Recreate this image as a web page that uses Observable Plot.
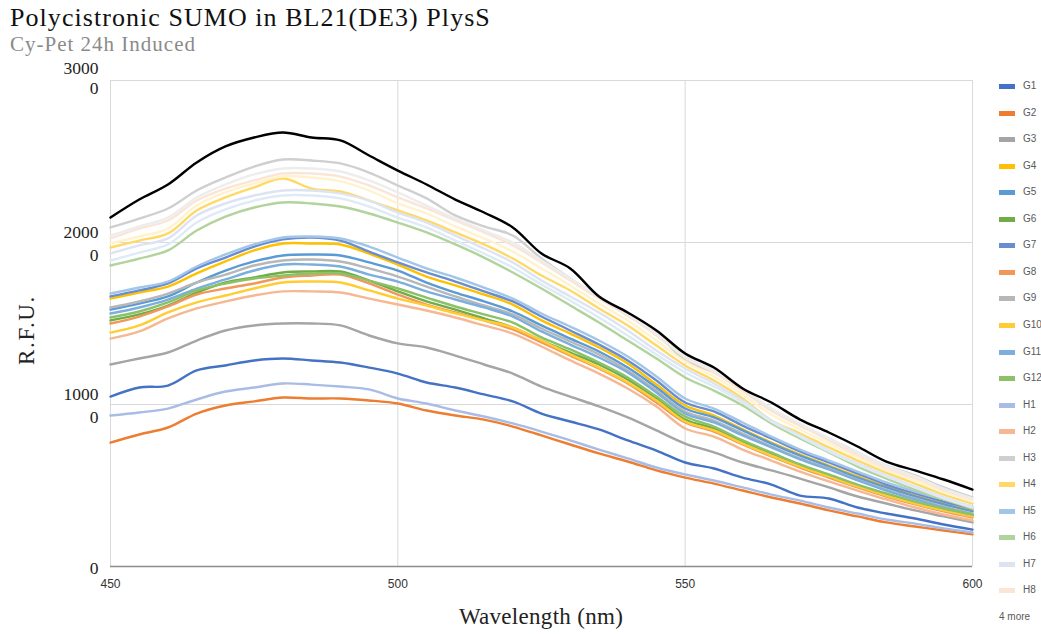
<!DOCTYPE html>
<html><head><meta charset="utf-8">
<script src="https://cdn.jsdelivr.net/npm/d3@7"></script>
<script src="https://cdn.jsdelivr.net/npm/@observablehq/plot@0.6"></script>
<style>
body{margin:0;background:#fff;}
#wrap{position:relative;width:1041px;height:634px;overflow:hidden;background:#fff;}
#chart{position:absolute;left:0;top:0;}
#title{position:absolute;left:10px;top:5px;font:26px "Liberation Serif","Times New Roman",serif;line-height:26px;letter-spacing:1.05px;color:#111;white-space:nowrap;}
#sub{position:absolute;left:10px;top:34px;font:21px "Liberation Serif","Times New Roman",serif;line-height:21px;letter-spacing:1px;color:#8a8a8a;white-space:nowrap;}
#xlab{position:absolute;left:0;width:1082px;top:604px;text-align:center;font:23px "Liberation Serif",serif;letter-spacing:0.3px;color:#222;}
#ylab{position:absolute;left:27px;top:330px;transform:translate(-50%,-50%) rotate(-90deg);font:23px "Liberation Serif",serif;letter-spacing:1.6px;color:#222;white-space:nowrap;}
.lg{position:absolute;left:999px;height:14px;font:10px "Liberation Sans",Arial,sans-serif;color:#595959;white-space:nowrap;}
.lg span.sw{position:absolute;left:0;top:5px;width:16px;height:5px;}
.lg span.tx{position:absolute;left:24px;top:0;line-height:14px;}
</style></head>
<body><div id="wrap"><div id="chart"></div>
<div id="title">Polycistronic SUMO in BL21(DE3) PlysS</div>
<div id="sub">Cy-Pet 24h Induced</div>
<div id="xlab">Wavelength (nm)</div>
<div id="ylab">R.F.U.</div>
<div id="legend"></div>
</div>
<script>
const wavelengths = [450,455,460,465,470,475,480,485,490,495,500,505,510,515,520,525,530,535,540,545,550,555,560,565,570,575,580,585,590,595,600];
const seriesNames = ["G1","G2","G3","G4","G5","G6","G7","G8","G9","G10","G11","G12","H1","H2","H3","H4","H5","H6","H7","H8","H9","H10","H11","H12"];
const seriesColors = ["#4472C4","#ED7D31","#A5A5A5","#FFC000","#5B9BD5","#70AD47","#698ED0","#F1975A","#B7B7B7","#FFCD33","#7CAFDD","#8CC168","#A9BCE5","#F5B893","#CFCFCF","#FFD966","#A3C6E8","#B1D49C","#DDE3F3","#FBE5D6","#EDEDED","#FFF2CC","#DEEBF7","#000000"];
const legendShown = 20;
const legendMore = "4 more";

const G1 = [10490,11050,11170,12100,12410,12720,12840,12720,12590,12280,11910,11360,11050,10620,10190,9440,8950,8460,7780,7160,6420,6050,5490,5060,4380,4200,3640,3270,2960,2590,2280];
const G2 = [7650,8150,8580,9440,9940,10190,10430,10370,10370,10250,10060,9630,9320,9070,8640,8090,7530,6980,6480,5930,5490,5120,4690,4260,3890,3460,3090,2720,2470,2220,1980];
const G3 = [12470,12840,13210,13950,14570,14880,15000,15000,14880,14260,13770,13520,13020,12470,11910,11110,10490,9880,9200,8400,7590,7040,6420,5930,5430,4880,4320,3890,3460,3090,2720];
const G4 = [16540,16910,17280,18090,18830,19510,19940,19940,19880,19320,18640,17900,17350,16790,16170,15190,14380,13520,12530,11230,9940,9320,8460,7650,6910,6230,5560,4940,4380,3890,3460];
const G5 = [15860,16230,16670,17530,18270,18830,19200,19260,19200,18770,18270,17530,16910,16360,15740,14880,14070,13270,12280,11050,9750,9200,8400,7590,6850,6170,5490,4880,4320,3830,3400];
const G6 = [15190,15560,16110,16910,17530,17840,18150,18210,18210,17650,16980,16360,15860,15310,14750,13950,13210,12470,11540,10370,9070,8520,7720,6980,6230,5620,5000,4440,3950,3520,3150];
const G7 = [16670,17040,17470,18400,19070,19750,20190,20310,20120,19440,18770,18150,17590,16980,16360,15430,14570,13700,12720,11480,10120,9570,8700,7900,7100,6420,5740,5060,4510,4010,3580];
const G8 = [15000,15430,16050,16790,17160,17470,17840,17960,18020,17470,16790,16170,15680,15190,14630,13830,13020,12220,11300,10120,8890,8330,7530,6790,6110,5490,4880,4320,3830,3400,3020];
const G9 = [15990,16360,16850,17530,18020,18580,18890,18950,18830,18400,17900,17280,16670,16110,15560,14690,13890,13090,12100,10860,9570,9010,8210,7410,6670,6050,5370,4750,4200,3700,3270];
const G10 = [14440,14880,15680,16300,16730,17160,17530,17590,17530,17040,16540,16110,15620,15190,14750,13950,13090,12280,11360,10250,8950,8400,7590,6850,6170,5560,4940,4380,3890,3460,3090];
const G11 = [15620,15990,16480,17160,17720,18270,18640,18640,18520,18020,17590,16980,16480,15990,15430,14510,13700,12900,11980,10740,9440,8890,8090,7350,6610,5990,5310,4690,4140,3640,3210];
const G12 = [15370,15740,16300,17040,17470,17780,17960,18090,18090,17650,17160,16600,16050,15560,15060,14140,13400,12590,11670,10490,9260,8640,7780,7040,6300,5680,5060,4510,4010,3580,3210];
const H1 = [9320,9510,9750,10310,10800,11050,11300,11230,11110,10930,10370,10060,9630,9260,8830,8330,7780,7220,6670,6110,5680,5310,4880,4440,4070,3640,3270,2900,2650,2350,2100];
const H2 = [14070,14510,15310,15930,16360,16730,16980,16980,16910,16540,16170,15800,15370,14880,14380,13580,12720,11910,10990,9880,8520,8020,7220,6540,5860,5250,4690,4140,3640,3210,2840];
const H3 = [20930,21480,22100,23210,24010,24690,25120,25060,24880,24320,23520,22720,21670,20990,20430,19010,17780,16670,15490,14380,12720,11980,10860,9630,8700,7900,7040,6230,5620,4880,4260];
const H4 = [19690,20120,20560,21980,22780,23400,23950,23330,23150,22590,21980,21360,20620,19880,19010,17960,17040,15930,14880,13640,12410,11480,10370,9010,8210,7350,6540,5800,5120,4440,3890];
const H5 = [16850,17220,17590,18520,19260,19880,20310,20370,20250,19750,19070,18400,17840,17220,16540,15620,14810,13950,12960,11730,10370,9750,8890,8020,7220,6540,5860,5190,4630,4140,3700];
const H6 = [18580,19010,19510,20740,21600,22160,22470,22410,22220,21790,21230,20620,19880,19070,18150,17160,16110,15060,13950,12840,11670,10860,9940,8830,7900,7040,6170,5430,4750,4140,3580];
const H7 = [19320,19820,20250,21670,22410,22900,23210,23210,23030,22590,21850,21230,20430,19630,18770,17650,16670,15680,14570,13330,12220,11300,10250,9010,8090,7160,6360,5620,4940,4260,3700];
const H8 = [20250,20860,21360,22590,23330,23830,24260,24260,24070,23520,22780,22100,21360,20620,19820,18770,17650,16540,15490,14260,12900,11980,10860,9630,8700,7780,6850,6050,5430,4690,4070];
const H9 = [20430,20990,21540,22780,23580,24200,24570,24570,24380,23830,23090,22280,21480,20740,20000,18890,17780,16670,15560,14380,12960,12100,10990,9750,8830,7900,7040,6230,5560,4810,4200];
const H10 = [19940,20370,20860,22280,23090,23640,24070,24010,23770,23210,22410,21790,20990,20250,19440,18400,17350,16230,15190,13950,12650,11730,10620,9380,8460,7590,6730,5930,5310,4570,4010];
const H11 = [18890,19380,19880,21230,22040,22590,22900,22900,22720,22220,21540,20930,20120,19320,18460,17410,16420,15370,14260,13090,11980,11110,10120,8950,8020,7100,6300,5560,4880,4200,3640];
const H12 = [21540,22650,23580,24940,25930,26480,26790,26480,26300,25370,24440,23580,22650,21850,20930,19320,18400,16670,15680,14570,13150,12280,10990,10120,9070,8270,7410,6480,5930,5370,4750];

const seriesValues = [G1,G2,G3,G4,G5,G6,G7,G8,G9,G10,G11,G12,H1,H2,H3,H4,H5,H6,H7,H8,H9,H10,H11,H12];

const xTicks = [450,500,550,600];
const yTicks = [0,10000,20000,30000];
const yTickLabels = ["0","1000\n0","2000\n0","3000\n0"];

const rows = seriesNames.flatMap((s,i) => seriesValues[i].map((v,j) => ({series:s, wl:wavelengths[j], rfu:v})));
const yLab = new Map(yTicks.map((t,i)=>[t,yTickLabels[i]]));

const chart = Plot.plot({
  width:1041, height:634,
  marginLeft:110, marginRight:69, marginTop:80, marginBottom:68,
  style:{fontFamily:"Liberation Sans, Arial, sans-serif", background:"transparent", overflow:"visible"},
  x:{domain:[450,600], axis:null},
  y:{domain:[0,30000], axis:null},
  color:{domain:seriesNames, range:seriesColors},
  marks:[
    Plot.gridY(yTicks.filter(d=>d>0), {stroke:"#d9d9d9", strokeOpacity:1, strokeWidth:1}),
    Plot.gridX(xTicks, {stroke:"#d9d9d9", strokeOpacity:1, strokeWidth:1}),
    Plot.lineY(rows, {x:"wl", y:"rfu", z:"series", stroke:"series", strokeWidth:2.4, curve:"catmull-rom", strokeLinejoin:"round"}),
    Plot.ruleY([0], {stroke:"#8c8c8c", strokeWidth:1.5}),
    Plot.axisX(xTicks, {tickSize:0, tickPadding:13, fontSize:12, fill:"#333", label:null}),
    Plot.text(yTicks.filter(d=>d<30000), {frameAnchor:"left", y:d=>d, text:d=>yLab.get(d), dx:-12, textAnchor:"end", fontSize:17.5, lineHeight:1.32, fontFamily:"Liberation Serif, serif", fill:"#222"}),
    Plot.text(yTicks.filter(d=>d===30000), {frameAnchor:"left", y:d=>d, text:d=>yLab.get(d), dx:-12, dy:-3, textAnchor:"end", fontSize:17.5, lineHeight:1.15, fontFamily:"Liberation Serif, serif", fill:"#222"})
  ]
});
document.getElementById("chart").appendChild(chart);

const lg = document.getElementById("legend");
seriesNames.slice(0, legendShown).forEach((s,i) => {
  const d = document.createElement("div");
  d.className = "lg";
  d.style.top = (79 + i*26.55) + "px";
  d.innerHTML = `<span class="sw" style="background:${seriesColors[i]}"></span><span class="tx">${s}</span>`;
  lg.appendChild(d);
});
const more = document.createElement("div");
more.className = "lg";
more.style.top = (79 + legendShown*26.55) + "px";
more.innerHTML = `<span class="tx" style="left:0">${legendMore}</span>`;
lg.appendChild(more);
</script>
</body></html>
